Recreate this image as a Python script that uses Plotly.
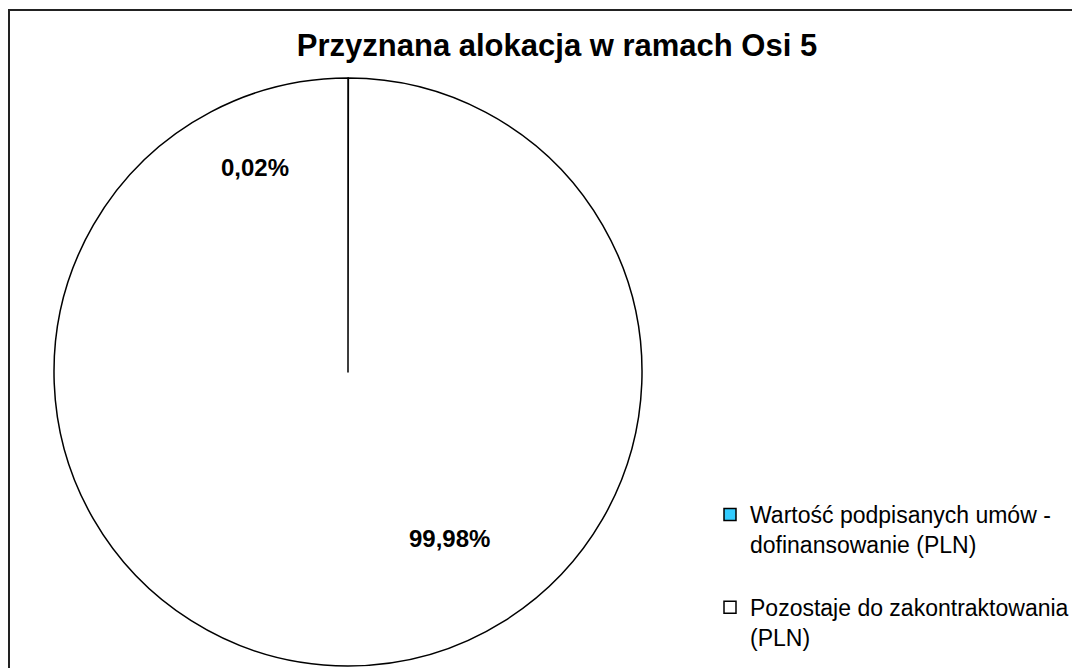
import plotly.graph_objects as go

labels = ["Wartość podpisanych umów -<br>dofinansowanie (PLN)<br> ",
          "Pozostaje do zakontraktowania<br>(PLN)"]
values = [0.02, 99.98]
pct_text = ["0,02%", "99,98%"]
colors = ["#33CCFF", "#FFFFFF"]

W, H = 1080, 668
FONT = "Liberation Sans, Arial, sans-serif"
OFF = 8  # page body margin


def px_x(v):
    return (v - OFF) / W


def px_y(v):
    return 1 - (v - OFF) / H


fig = go.Figure()
fig.add_trace(go.Pie(
    labels=labels, values=values, sort=False, direction="clockwise", rotation=0,
    marker=dict(colors=colors, line=dict(color="#000000", width=1.5)),
    textinfo="none", hoverinfo="label+percent",
    domain=dict(x=[px_x(54), px_x(642)], y=[px_y(666), px_y(78)]),
))

# percentage labels
label_pos = [(255, 167), (449, 538)]
for t, (px, py) in zip(pct_text, label_pos):
    fig.add_annotation(text=f"<b>{t}</b>", x=px_x(px), y=px_y(py), xref="paper", yref="paper",
                       xanchor="center", yanchor="middle",
                       showarrow=False, font=dict(size=24, family=FONT, color="#000000"))

fig.add_shape(type="rect", xref="paper", yref="paper",
              x0=px_x(9), x1=1.05, y0=-0.05, y1=px_y(10),
              line=dict(color="#222222", width=2))

fig.update_layout(
    width=W, height=H,
    margin=dict(l=0, r=0, t=0, b=0),
    paper_bgcolor="#FFFFFF",
    title=dict(text="<b>Przyznana alokacja w ramach Osi 5</b>", x=px_x(557), xanchor="center",
               y=px_y(45), yanchor="middle",
               font=dict(size=31, family=FONT, color="#000000")),
    legend=dict(x=px_x(710), y=px_y(493), xanchor="left", yanchor="top",
                font=dict(size=23, family=FONT, color="#000000"),
                bgcolor="rgba(0,0,0,0)", valign="top", itemwidth=30,
                tracegroupgap=0),
    showlegend=True,
)

fig.write_html("out.html")
